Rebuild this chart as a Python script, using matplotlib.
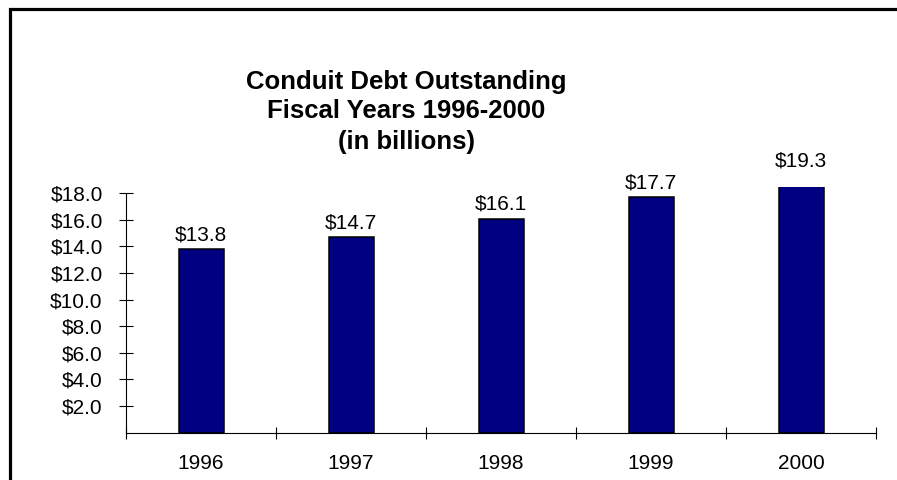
import matplotlib
matplotlib.use("Agg")
import matplotlib.pyplot as plt
from matplotlib.patches import Rectangle
from matplotlib.ticker import FixedLocator, NullFormatter

# Conduit debt outstanding, in billions of dollars
years = ["1996", "1997", "1998", "1999", "2000"]
debt = [13.8, 14.7, 16.1, 17.7, 19.3]
y_ticks = [2, 4, 6, 8, 10, 12, 14, 16, 18]
y_tick_labels = ["$2.0", "$4.0", "$6.0", "$8.0", "$10.0", "$12.0", "$14.0", "$16.0", "$18.0"]
title_lines = ["Conduit Debt Outstanding", "Fiscal Years 1996-2000", "(in billions)"]

plt.rcParams["font.family"] = ["Liberation Sans", "DejaVu Sans"]

W, H = 897, 480
fig = plt.figure(figsize=(W / 100, H / 100), dpi=100)
fig.patch.set_facecolor("white")

# frame around the chart (its right and bottom sides run off the page)
fig.patches.append(Rectangle((10 / W, -1), 2, 1 - 9.0 / H + 1,
                             transform=fig.transFigure, fill=False,
                             edgecolor="black", linewidth=2.3))

ax = fig.add_axes([126 / W, (H - 432.7) / H, 750 / W, (432.7 - 187.0) / H])
ax.set_facecolor("none")

x = list(range(len(years)))
ax.bar(x, debt, width=0.3, color="#000080", edgecolor="black", linewidth=1.1, zorder=2)

for xi, v in zip(x, debt):
    ax.annotate(f"${v:.1f}", xy=(xi, v), xytext=(0, 6.5), textcoords="offset points",
                ha="center", va="baseline", fontsize=15, annotation_clip=False)

ax.set_xlim(-0.5, len(years) - 0.5)
ax.set_ylim(0, 18.47)

# y axis
ax.set_yticks(y_ticks)
ax.set_yticklabels(y_tick_labels)
ax.tick_params(axis="y", direction="inout", length=9.5, width=0.8, pad=12, labelsize=15)

# x axis: labels at category centres, tick marks at category boundaries
ax.set_xticks(x)
ax.set_xticklabels(years)
ax.tick_params(axis="x", which="major", length=0, pad=15.5, labelsize=15)
ax.xaxis.set_minor_locator(FixedLocator([i - 0.5 for i in range(len(years) + 1)]))
ax.xaxis.set_minor_formatter(NullFormatter())
ax.tick_params(axis="x", which="minor", direction="inout", length=8.6, width=0.8)

for side in ("top", "right"):
    ax.spines[side].set_visible(False)
ax.spines["left"].set_bounds(0, 18)
ax.spines["left"].set_linewidth(0.8)
ax.spines["bottom"].set_linewidth(0.8)

# three-line bold title
for i, line in enumerate(title_lines):
    fig.text(406 / W, 1 - (81.5 + 30 * i) / H, line, ha="center", va="center",
             fontsize=18.5, fontweight="bold")

fig.savefig("out.png", dpi=100, facecolor="white")
